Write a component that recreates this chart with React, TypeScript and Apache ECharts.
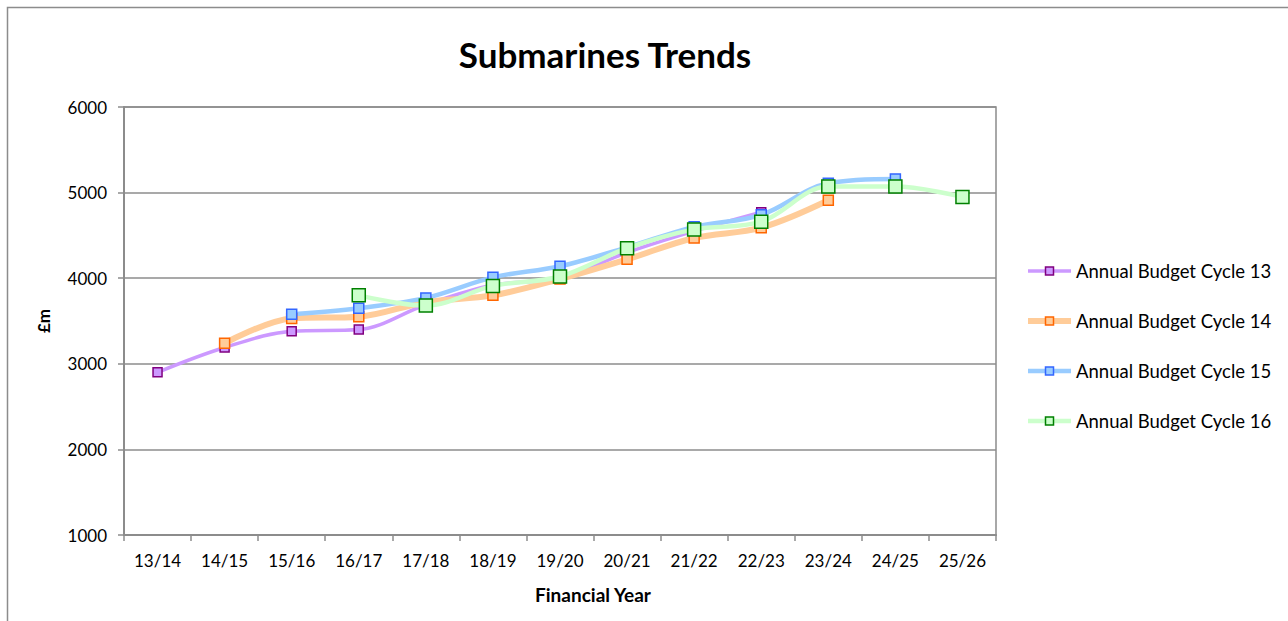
import React, { useEffect, useRef } from "react";
import * as echarts from "echarts";

const years = ["13/14", "14/15", "15/16", "16/17", "17/18", "18/19", "19/20", "20/21", "21/22", "22/23", "23/24", "24/25", "25/26"];

const cycle13 = [2900, 3190, 3380, 3400, 3690, 3920, 4000, 4300, 4550, 4770, null, null, null];
const cycle14 = [null, 3240, 3530, 3550, 3720, 3800, 3990, 4220, 4470, 4590, 4910, null, null];
const cycle15 = [null, null, 3580, 3650, 3770, 4010, 4140, 4360, 4600, 4740, 5110, 5160, null];
const cycle16 = [null, null, null, 3800, 3680, 3910, 4020, 4350, 4570, 4660, 5070, 5070, 4950];

const FONT = "Lato, 'Liberation Sans', sans-serif";

const styles = [
  { name: "Annual Budget Cycle 13", data: cycle13, line: "#cc99ff", edge: "#800080", width: 3.5, size: 9 },
  { name: "Annual Budget Cycle 14", data: cycle14, line: "#ffcc99", edge: "#ff6600", width: 6, size: 10 },
  { name: "Annual Budget Cycle 15", data: cycle15, line: "#99ccff", edge: "#3366ff", width: 4.5, size: 10 },
  { name: "Annual Budget Cycle 16", data: cycle16, line: "#ccffcc", edge: "#008000", width: 4.5, size: 13 },
];

export default function App() {
  const ref = useRef<HTMLDivElement>(null);

  useEffect(() => {
    if (!ref.current) return;
    const chart = echarts.init(ref.current, undefined, { renderer: "svg" });
    chart.setOption({
      animation: false,
      backgroundColor: "#ffffff",
      textStyle: { fontFamily: FONT },
      title: {
        text: "Submarines Trends",
        left: 600,
        top: 31,
        textAlign: "center",
        textStyle: { fontFamily: FONT, fontSize: 35, fontWeight: "bold", color: "#000" },
      },
      graphic: [
        {
          type: "rect",
          shape: { x: 7.5, y: 7.5, width: 1320, height: 700 },
          style: { fill: "none", stroke: "#8c8c8c", lineWidth: 1.5 },
          silent: true,
        },
      ],
      legend: {
        orient: "vertical",
        left: 1025,
        top: 261,
        padding: 0,
        itemWidth: 43,
        itemHeight: 10,
        itemGap: 30,
        textStyle: { fontFamily: FONT, fontSize: 18.5, color: "#000", lineHeight: 20 },
        data: styles.map((s) => ({
          name: s.name,
          lineStyle: { color: s.line, width: s.width },
          itemStyle: { color: s.line, borderColor: s.edge, borderWidth: 1.5 },
        })),
      },
      grid: {
        left: 124,
        top: 107,
        right: 292,
        bottom: 86,
        show: true,
        borderColor: "#8c8c8c",
        borderWidth: 1.5,
        containLabel: false,
      },
      xAxis: {
        type: "category",
        data: years,
        boundaryGap: true,
        name: "Financial Year",
        nameLocation: "middle",
        nameGap: 50,
        nameTextStyle: { fontFamily: FONT, fontSize: 19, fontWeight: "bold", color: "#000", padding: [0, 0, 0, 66] },
        axisLine: { lineStyle: { color: "#8c8c8c", width: 2 } },
        axisTick: { show: true, length: 6, lineStyle: { color: "#8c8c8c", width: 1.5 } },
        axisLabel: { fontFamily: FONT, fontSize: 17, color: "#000", margin: 17 },
      },
      yAxis: {
        type: "value",
        min: 1000,
        max: 6000,
        interval: 1000,
        name: "£m",
        nameLocation: "middle",
        nameGap: 72,
        nameRotate: 90,
        nameTextStyle: { fontFamily: FONT, fontSize: 17, fontWeight: "bold", color: "#000" },
        axisLine: { show: true, lineStyle: { color: "#8c8c8c", width: 2 } },
        axisTick: { show: true, length: 6, lineStyle: { color: "#8c8c8c", width: 1.5 } },
        axisLabel: { fontFamily: FONT, fontSize: 17, color: "#000", margin: 17, formatter: (v: number) => String(v) },
        splitLine: { lineStyle: { color: "#8c8c8c", width: 1.5 } },
      },
      series: styles.map((s) => ({
        name: s.name,
        type: "line",
        data: s.data,
        smooth: 0.35,
        connectNulls: false,
        symbol: "rect",
        symbolSize: s.size,
        showAllSymbol: true,
        lineStyle: { color: s.line, width: s.width },
        itemStyle: { color: s.line, borderColor: s.edge, borderWidth: 1.5 },
        emphasis: { disabled: true },
      })),
    });
    return () => chart.dispose();
  }, []);

  return <div ref={ref} style={{ position: "fixed", left: 0, top: 0, width: 1288, height: 621 }} />;
}
